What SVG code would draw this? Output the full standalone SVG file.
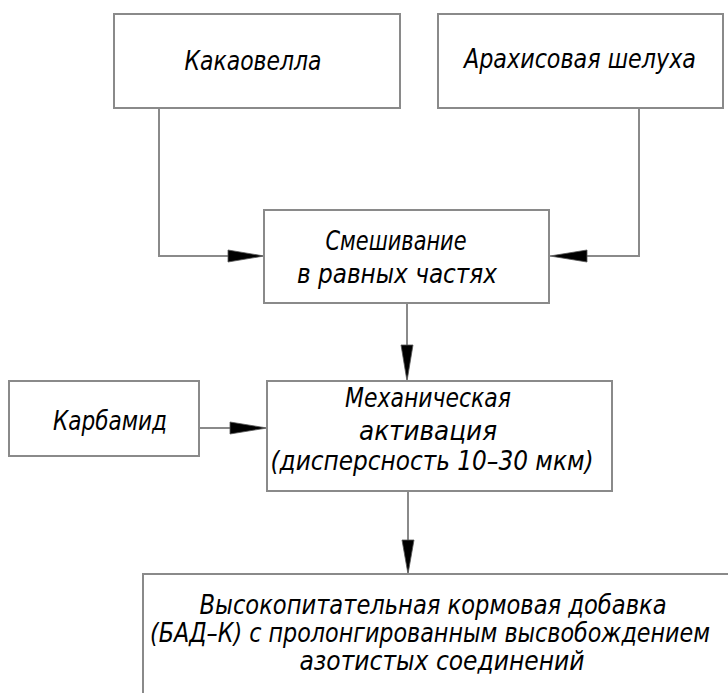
<svg xmlns="http://www.w3.org/2000/svg" width="728" height="693" viewBox="0 0 728 693">
<style>
.box{fill:#fff;stroke:#8a8a8a;stroke-width:2}
.ln{fill:none;stroke:#8a8a8a;stroke-width:2}
.t{font-family:"DejaVu Sans Condensed","DejaVu Sans","Liberation Sans",sans-serif;font-style:italic;font-size:27px;fill:#000;text-anchor:middle}
.ah{fill:#000;stroke:#555;stroke-width:0.8}
</style>
<rect width="728" height="693" fill="#fff"/>
<g id="connectors">
<polyline class="ln" points="159,108 159,256 230,256"/>
<polygon class="ah" points="228,250 264,256 228,262"/>
<polyline class="ln" points="639,108 639,256 586,256"/>
<polygon class="ah" points="587,250 550,256 587,262"/>
<line class="ln" x1="407" y1="303" x2="407" y2="346"/>
<polygon class="ah" points="401,345 407,381 413,345"/>
<line class="ln" x1="199" y1="428" x2="232" y2="428"/>
<polygon class="ah" points="230,422 267,428 230,434"/>
<line class="ln" x1="408" y1="491" x2="408" y2="541"/>
<polygon class="ah" points="402,540 408,574 414,540"/>
</g>
<g id="n1">
<rect class="box" x="114" y="14" width="286" height="94"/>
<text class="t" x="253" y="70" textLength="137" lengthAdjust="spacingAndGlyphs">Какаовелла</text>
</g>
<g id="n2">
<rect class="box" x="438" y="14" width="285" height="94"/>
<text class="t" x="580" y="68" textLength="232" lengthAdjust="spacingAndGlyphs">Арахисовая шелуха</text>
</g>
<g id="n3">
<rect class="box" x="264" y="210" width="285" height="93"/>
<text class="t" x="396" y="250" textLength="141" lengthAdjust="spacingAndGlyphs">Смешивание</text>
<text class="t" x="397" y="283" textLength="200" lengthAdjust="spacingAndGlyphs">в равных частях</text>
</g>
<g id="n4">
<rect class="box" x="9" y="381" width="190" height="75"/>
<text class="t" x="110" y="430" textLength="114" lengthAdjust="spacingAndGlyphs">Карбамид</text>
</g>
<g id="n5">
<rect class="box" x="267" y="381" width="345" height="110"/>
<text class="t" x="428" y="407" textLength="166" lengthAdjust="spacingAndGlyphs">Механическая</text>
<text class="t" x="428" y="440" textLength="138" lengthAdjust="spacingAndGlyphs">активация</text>
<text class="t" x="432" y="470" textLength="323" lengthAdjust="spacingAndGlyphs">(дисперсность 10–30 мкм)</text>
</g>
<g id="n6">
<rect class="box" x="143" y="574" width="600" height="130"/>
<text class="t" x="433" y="614" textLength="467" lengthAdjust="spacingAndGlyphs">Высокопитательная кормовая добавка</text>
<text class="t" x="430" y="642" textLength="560" lengthAdjust="spacingAndGlyphs">(БАД–К) с пролонгированным высвобождением</text>
<text class="t" x="442" y="670" textLength="285" lengthAdjust="spacingAndGlyphs">азотистых соединений</text>
</g>
</svg>
